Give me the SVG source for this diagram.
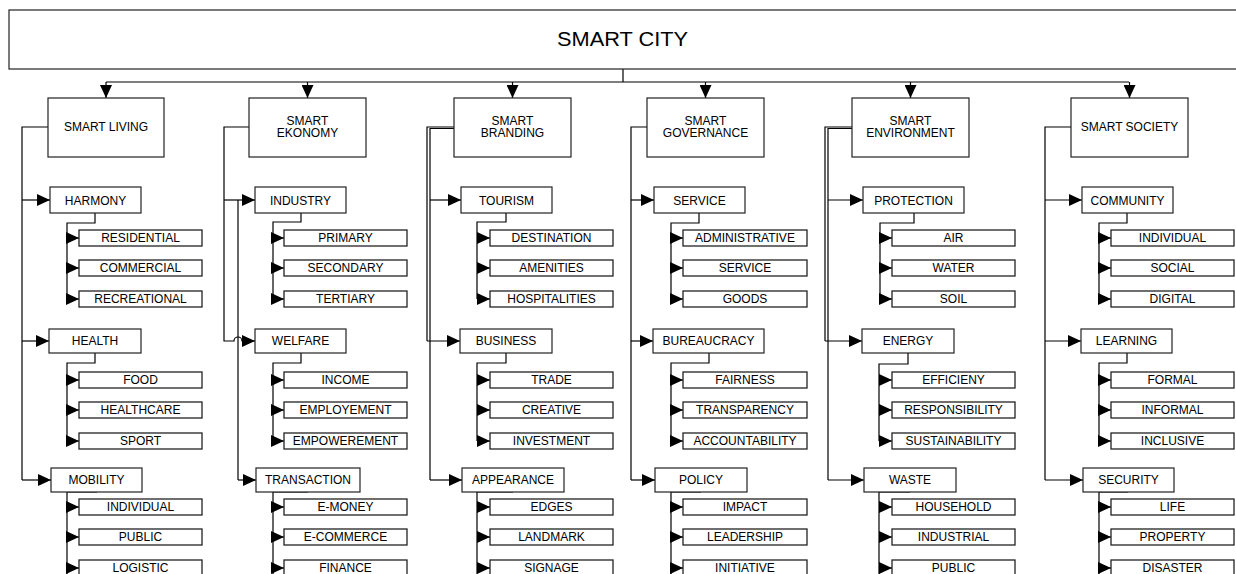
<svg xmlns="http://www.w3.org/2000/svg" width="1236" height="574" viewBox="0 0 1236 574">
<style>
.box{fill:#fff;stroke:#222;stroke-width:1.2}
.leaf{fill:#fff;stroke:#222;stroke-width:1.3}
.ln{fill:none;stroke:#000;stroke-width:1.2}
.a{fill:none;stroke:#000;stroke-width:1.2;marker-end:url(#arr)}
text{font-family:"Liberation Sans",Arial,sans-serif;font-size:12px;text-anchor:middle;fill:#000}
</style>
<defs>
<marker id="arr" viewBox="0 0 13 12" refX="13" refY="6" markerWidth="13" markerHeight="12" markerUnits="userSpaceOnUse" orient="auto"><path d="M0,0 L13,6 L0,12 z" fill="#000"/></marker>
</defs>
<rect width="1236" height="574" fill="#fff"/>
<g id="connectors">
<!-- top bus -->
<path class="ln" d="M623,69 V82 M106,82 H1129"/>
<path class="a" d="M106,82 V98"/><path class="a" d="M307.5,82 V98"/><path class="a" d="M512.5,82 V98"/><path class="a" d="M705.5,82 V98"/><path class="a" d="M910.5,82 V98"/><path class="a" d="M1129.5,82 V98"/>
<!-- col1 -->
<path class="ln" d="M48,127 H22 V480"/>
<path class="a" d="M22,200 H50"/><path class="a" d="M22,341 H49"/><path class="a" d="M22,480 H51"/>
<path class="ln" d="M95,213 V223 H67 V299"/><path class="a" d="M67,238 H79"/><path class="a" d="M67,268 H79"/><path class="a" d="M67,299 H79"/>
<path class="ln" d="M95,353 V363 H67 V441"/><path class="a" d="M67,380 H79"/><path class="a" d="M67,410 H79"/><path class="a" d="M67,441 H79"/>
<path class="ln" d="M97,492 H67 V574"/><path class="a" d="M67,507 H79"/><path class="a" d="M67,537 H79"/><path class="a" d="M67,568 H79"/>
<!-- col2 -->
<path class="ln" d="M249,127 H224 V341 H234 A4,4 0 0 1 242,341 H244"/>
<path class="ln" d="M238,200 V480"/>
<path class="a" d="M224,200 H255"/><path class="a" d="M242,341 H255"/><path class="a" d="M238,480 H256"/>
<path class="ln" d="M301,213 V222 H273 V299"/><path class="a" d="M273,238 H284"/><path class="a" d="M273,268 H284"/><path class="a" d="M273,299 H284"/>
<path class="ln" d="M301,353 V363 H273 V441"/><path class="a" d="M273,380 H284"/><path class="a" d="M273,410 H284"/><path class="a" d="M273,441 H284"/>
<path class="ln" d="M308,492 H273 V574"/><path class="a" d="M273,507 H284"/><path class="a" d="M273,537 H284"/><path class="a" d="M273,568 H284"/>
<!-- col3 -->
<path class="ln" d="M454,127 H427 V341"/><path class="ln" d="M454,128.5 H430 V480"/>
<path class="a" d="M430,200 H461"/><path class="a" d="M427,341 H460"/><path class="a" d="M430,480 H462"/>
<path class="ln" d="M506,213 V222 H477 V299"/><path class="a" d="M477,238 H490"/><path class="a" d="M477,268 H490"/><path class="a" d="M477,299 H490"/>
<path class="ln" d="M506,353 V363 H477 V441"/><path class="a" d="M477,380 H490"/><path class="a" d="M477,410 H490"/><path class="a" d="M477,441 H490"/>
<path class="ln" d="M513,492 H477 V574"/><path class="a" d="M477,507 H490"/><path class="a" d="M477,537 H490"/><path class="a" d="M477,568 H490"/>
<!-- col4 -->
<path class="ln" d="M647,127 H631 V480"/>
<path class="a" d="M631,200 H654"/><path class="a" d="M631,341 H653"/><path class="a" d="M631,480 H655"/>
<path class="ln" d="M699,213 V223 H671 V299"/><path class="a" d="M671,238 H683"/><path class="a" d="M671,268 H683"/><path class="a" d="M671,299 H683"/>
<path class="ln" d="M709,353 V363 H671 V441"/><path class="a" d="M671,380 H683"/><path class="a" d="M671,410 H683"/><path class="a" d="M671,441 H683"/>
<path class="ln" d="M701,492 H671 V574"/><path class="a" d="M671,507 H683"/><path class="a" d="M671,537 H683"/><path class="a" d="M671,568 H683"/>
<!-- col5 -->
<path class="ln" d="M852,127 H825 V341"/><path class="ln" d="M852,128.5 H828 V480"/>
<path class="a" d="M828,200 H863"/><path class="a" d="M825,341 H862"/><path class="a" d="M828,480 H864"/>
<path class="ln" d="M914,213 V223 H880 V299"/><path class="a" d="M880,238 H892"/><path class="a" d="M880,268 H892"/><path class="a" d="M880,299 H892"/>
<path class="ln" d="M908,353 V364 H879 V441"/><path class="a" d="M879,380 H892"/><path class="a" d="M879,410 H892"/><path class="a" d="M879,441 H892"/>
<path class="ln" d="M910,492 H879 V574"/><path class="a" d="M879,507 H892"/><path class="a" d="M879,537 H892"/><path class="a" d="M879,568 H892"/>
<!-- col6 -->
<path class="ln" d="M1071,127 H1045 V480"/>
<path class="a" d="M1045,200 H1082"/><path class="a" d="M1045,341 H1081"/><path class="a" d="M1045,480 H1083"/>
<path class="ln" d="M1127,213 V223 H1099 V299"/><path class="a" d="M1099,238 H1111"/><path class="a" d="M1099,268 H1111"/><path class="a" d="M1099,299 H1111"/>
<path class="ln" d="M1127,353 V363 H1099 V441"/><path class="a" d="M1099,380 H1111"/><path class="a" d="M1099,410 H1111"/><path class="a" d="M1099,441 H1111"/>
<path class="ln" d="M1128,492 H1099 V574"/><path class="a" d="M1099,507 H1111"/><path class="a" d="M1099,537 H1111"/><path class="a" d="M1099,568 H1111"/>
</g>
<g id="smart-city"><rect class="box" x="9" y="10" width="1240" height="59"/><text x="622.5" y="46" font-size="20" textLength="131" lengthAdjust="spacingAndGlyphs" style="font-size:20px">SMART CITY</text></g>
<!-- top level -->
<g id="smart-living"><rect class="box" x="48" y="98" width="116" height="59"/><text x="106" y="131">SMART LIVING</text></g>
<g id="smart-ekonomy"><rect class="box" x="249" y="98" width="117" height="59"/><text x="307.5" y="125">SMART</text><text x="307.5" y="137">EKONOMY</text></g>
<g id="smart-branding"><rect class="box" x="454" y="98" width="117" height="59"/><text x="512.5" y="125">SMART</text><text x="512.5" y="137">BRANDING</text></g>
<g id="smart-governance"><rect class="box" x="647" y="98" width="117" height="59"/><text x="705.5" y="125">SMART</text><text x="705.5" y="137">GOVERNANCE</text></g>
<g id="smart-environment"><rect class="box" x="852" y="98" width="117" height="59"/><text x="910.5" y="125">SMART</text><text x="910.5" y="137">ENVIRONMENT</text></g>
<g id="smart-society"><rect class="box" x="1071" y="98" width="117" height="59"/><text x="1129.5" y="131">SMART SOCIETY</text></g>
<!-- col1 subs -->
<g id="harmony"><rect class="box" x="50" y="187" width="91" height="26"/><text x="95.5" y="204.5">HARMONY</text></g>
<g id="health"><rect class="box" x="49" y="329" width="92" height="24"/><text x="95" y="345">HEALTH</text></g>
<g id="mobility"><rect class="box" x="51" y="468" width="91" height="24"/><text x="96.5" y="484">MOBILITY</text></g>
<g id="residential"><rect class="leaf" x="79" y="230" width="123" height="16"/><text x="140.5" y="242">RESIDENTIAL</text></g>
<g id="commercial"><rect class="leaf" x="79" y="260" width="123" height="16"/><text x="140.5" y="272">COMMERCIAL</text></g>
<g id="recreational"><rect class="leaf" x="79" y="291" width="123" height="16"/><text x="140.5" y="303">RECREATIONAL</text></g>
<g id="food"><rect class="leaf" x="79" y="372" width="123" height="16"/><text x="140.5" y="384">FOOD</text></g>
<g id="healthcare"><rect class="leaf" x="79" y="402" width="123" height="16"/><text x="140.5" y="414">HEALTHCARE</text></g>
<g id="sport"><rect class="leaf" x="79" y="433" width="123" height="16"/><text x="140.5" y="445">SPORT</text></g>
<g id="individual-1"><rect class="leaf" x="79" y="499" width="123" height="16"/><text x="140.5" y="511">INDIVIDUAL</text></g>
<g id="public-1"><rect class="leaf" x="79" y="529" width="123" height="16"/><text x="140.5" y="541">PUBLIC</text></g>
<g id="logistic"><rect class="leaf" x="79" y="560" width="123" height="16"/><text x="140.5" y="572">LOGISTIC</text></g>
<!-- col2 -->
<g id="industry"><rect class="box" x="255" y="187" width="91" height="26"/><text x="300.5" y="204.5">INDUSTRY</text></g>
<g id="welfare"><rect class="box" x="255" y="329" width="91" height="24"/><text x="300.5" y="345">WELFARE</text></g>
<g id="transaction"><rect class="box" x="256" y="468" width="104" height="24"/><text x="308" y="484">TRANSACTION</text></g>
<g id="primary"><rect class="leaf" x="284" y="230" width="123" height="16"/><text x="345.5" y="242">PRIMARY</text></g>
<g id="secondary"><rect class="leaf" x="284" y="260" width="123" height="16"/><text x="345.5" y="272">SECONDARY</text></g>
<g id="tertiary"><rect class="leaf" x="284" y="291" width="123" height="16"/><text x="345.5" y="303">TERTIARY</text></g>
<g id="income"><rect class="leaf" x="284" y="372" width="123" height="16"/><text x="345.5" y="384">INCOME</text></g>
<g id="employement"><rect class="leaf" x="284" y="402" width="123" height="16"/><text x="345.5" y="414">EMPLOYEMENT</text></g>
<g id="empowerement"><rect class="leaf" x="284" y="433" width="123" height="16"/><text x="345.5" y="445">EMPOWEREMENT</text></g>
<g id="e-money"><rect class="leaf" x="284" y="499" width="123" height="16"/><text x="345.5" y="511">E-MONEY</text></g>
<g id="e-commerce"><rect class="leaf" x="284" y="529" width="123" height="16"/><text x="345.5" y="541">E-COMMERCE</text></g>
<g id="finance"><rect class="leaf" x="284" y="560" width="123" height="16"/><text x="345.5" y="572">FINANCE</text></g>
<!-- col3 -->
<g id="tourism"><rect class="box" x="461" y="187" width="91" height="26"/><text x="506.5" y="204.5">TOURISM</text></g>
<g id="business"><rect class="box" x="460" y="329" width="92" height="24"/><text x="506" y="345">BUSINESS</text></g>
<g id="appearance"><rect class="box" x="462" y="468" width="102" height="24"/><text x="513" y="484">APPEARANCE</text></g>
<g id="destination"><rect class="leaf" x="490" y="230" width="123" height="16"/><text x="551.5" y="242">DESTINATION</text></g>
<g id="amenities"><rect class="leaf" x="490" y="260" width="123" height="16"/><text x="551.5" y="272">AMENITIES</text></g>
<g id="hospitalities"><rect class="leaf" x="490" y="291" width="123" height="16"/><text x="551.5" y="303">HOSPITALITIES</text></g>
<g id="trade"><rect class="leaf" x="490" y="372" width="123" height="16"/><text x="551.5" y="384">TRADE</text></g>
<g id="creative"><rect class="leaf" x="490" y="402" width="123" height="16"/><text x="551.5" y="414">CREATIVE</text></g>
<g id="investment"><rect class="leaf" x="490" y="433" width="123" height="16"/><text x="551.5" y="445">INVESTMENT</text></g>
<g id="edges"><rect class="leaf" x="490" y="499" width="123" height="16"/><text x="551.5" y="511">EDGES</text></g>
<g id="landmark"><rect class="leaf" x="490" y="529" width="123" height="16"/><text x="551.5" y="541">LANDMARK</text></g>
<g id="signage"><rect class="leaf" x="490" y="560" width="123" height="16"/><text x="551.5" y="572">SIGNAGE</text></g>
<!-- col4 -->
<g id="service"><rect class="box" x="654" y="187" width="91" height="26"/><text x="699.5" y="204.5">SERVICE</text></g>
<g id="bureaucracy"><rect class="box" x="653" y="329" width="111" height="24"/><text x="708.5" y="345">BUREAUCRACY</text></g>
<g id="policy"><rect class="box" x="655" y="468" width="92" height="24"/><text x="701" y="484">POLICY</text></g>
<g id="administrative"><rect class="leaf" x="683" y="230" width="124" height="16"/><text x="745" y="242">ADMINISTRATIVE</text></g>
<g id="service-leaf"><rect class="leaf" x="683" y="260" width="124" height="16"/><text x="745" y="272">SERVICE</text></g>
<g id="goods"><rect class="leaf" x="683" y="291" width="124" height="16"/><text x="745" y="303">GOODS</text></g>
<g id="fairness"><rect class="leaf" x="683" y="372" width="124" height="16"/><text x="745" y="384">FAIRNESS</text></g>
<g id="transparency"><rect class="leaf" x="683" y="402" width="124" height="16"/><text x="745" y="414">TRANSPARENCY</text></g>
<g id="accountability"><rect class="leaf" x="683" y="433" width="124" height="16"/><text x="745" y="445">ACCOUNTABILITY</text></g>
<g id="impact"><rect class="leaf" x="683" y="499" width="124" height="16"/><text x="745" y="511">IMPACT</text></g>
<g id="leadership"><rect class="leaf" x="683" y="529" width="124" height="16"/><text x="745" y="541">LEADERSHIP</text></g>
<g id="initiative"><rect class="leaf" x="683" y="560" width="124" height="16"/><text x="745" y="572">INITIATIVE</text></g>
<!-- col5 -->
<g id="protection"><rect class="box" x="863" y="187" width="101" height="26"/><text x="913.5" y="204.5">PROTECTION</text></g>
<g id="energy"><rect class="box" x="862" y="329" width="92" height="24"/><text x="908" y="345">ENERGY</text></g>
<g id="waste"><rect class="box" x="864" y="468" width="92" height="24"/><text x="910" y="484">WASTE</text></g>
<g id="air"><rect class="leaf" x="892" y="230" width="123" height="16"/><text x="953.5" y="242">AIR</text></g>
<g id="water"><rect class="leaf" x="892" y="260" width="123" height="16"/><text x="953.5" y="272">WATER</text></g>
<g id="soil"><rect class="leaf" x="892" y="291" width="123" height="16"/><text x="953.5" y="303">SOIL</text></g>
<g id="efficieny"><rect class="leaf" x="892" y="372" width="123" height="16"/><text x="953.5" y="384">EFFICIENY</text></g>
<g id="responsibility"><rect class="leaf" x="892" y="402" width="123" height="16"/><text x="953.5" y="414">RESPONSIBILITY</text></g>
<g id="sustainability"><rect class="leaf" x="892" y="433" width="123" height="16"/><text x="953.5" y="445">SUSTAINABILITY</text></g>
<g id="household"><rect class="leaf" x="892" y="499" width="123" height="16"/><text x="953.5" y="511">HOUSEHOLD</text></g>
<g id="industrial"><rect class="leaf" x="892" y="529" width="123" height="16"/><text x="953.5" y="541">INDUSTRIAL</text></g>
<g id="public-2"><rect class="leaf" x="892" y="560" width="123" height="16"/><text x="953.5" y="572">PUBLIC</text></g>
<!-- col6 -->
<g id="community"><rect class="box" x="1082" y="187" width="91" height="26"/><text x="1127.5" y="204.5">COMMUNITY</text></g>
<g id="learning"><rect class="box" x="1081" y="329" width="91" height="24"/><text x="1126.5" y="345">LEARNING</text></g>
<g id="security"><rect class="box" x="1083" y="468" width="91" height="24"/><text x="1128.5" y="484">SECURITY</text></g>
<g id="individual-2"><rect class="leaf" x="1111" y="230" width="123" height="16"/><text x="1172.5" y="242">INDIVIDUAL</text></g>
<g id="social"><rect class="leaf" x="1111" y="260" width="123" height="16"/><text x="1172.5" y="272">SOCIAL</text></g>
<g id="digital"><rect class="leaf" x="1111" y="291" width="123" height="16"/><text x="1172.5" y="303">DIGITAL</text></g>
<g id="formal"><rect class="leaf" x="1111" y="372" width="123" height="16"/><text x="1172.5" y="384">FORMAL</text></g>
<g id="informal"><rect class="leaf" x="1111" y="402" width="123" height="16"/><text x="1172.5" y="414">INFORMAL</text></g>
<g id="inclusive"><rect class="leaf" x="1111" y="433" width="123" height="16"/><text x="1172.5" y="445">INCLUSIVE</text></g>
<g id="life"><rect class="leaf" x="1111" y="499" width="123" height="16"/><text x="1172.5" y="511">LIFE</text></g>
<g id="property"><rect class="leaf" x="1111" y="529" width="123" height="16"/><text x="1172.5" y="541">PROPERTY</text></g>
<g id="disaster"><rect class="leaf" x="1111" y="560" width="123" height="16"/><text x="1172.5" y="572">DISASTER</text></g>
</svg>
